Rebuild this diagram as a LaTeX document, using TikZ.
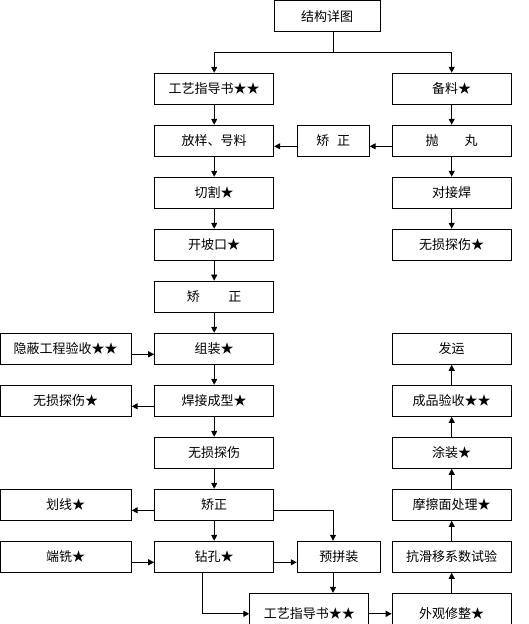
\documentclass[tikz,border=0pt]{standalone}
\usepackage{fontspec}
\setmainfont{Noto Sans CJK SC}
\usetikzlibrary{arrows.meta,calc,positioning}
\tikzset{
    flow box/.style={
        draw,
        line width=1pt,
        minimum width=119pt,
        minimum height=31pt,
        inner sep=0pt,
        font=\fontsize{13pt}{15pt}\selectfont
    },
    flow small/.style={flow box, minimum width=72pt},
    flow arrow/.style={-{Triangle[length=6pt,width=6pt]}, line width=1pt},
    flow line/.style={line width=1pt}
}

\begin{document}
\begin{tikzpicture}[x=1pt,y=-1pt]
    \clip (0,0) rectangle (528,624);
    \useasboundingbox (0,0) rectangle (528,624);

    \node[flow box, minimum width=106pt] (top) at (327,16.3) {结构详图};

    % left column
    \node[flow box] (guide) at (214.2,88.8) {工艺指导书★★};
    \node[flow box] (lay) at (214.2,140.8) {放样、号料};
    \node[flow box] (cut) at (214.2,192.8) {切割★};
    \node[flow box] (bevel) at (214.2,244.8) {开坡口★};
    \node[flow box] (fixa) at (214.2,296.7) {矫\hspace{2.2em}正};
    \node[flow box] (asm) at (214.2,348.8) {组装★};
    \node[flow box] (weld) at (214.2,400.8) {焊接成型★};
    \node[flow box] (ndt) at (214.2,452.8) {无损探伤};
    \node[flow box] (fixb) at (214.2,504.8) {矫正};
    \node[flow box] (drill) at (214.2,556.8) {钻孔★};

    % far left column
    \node[flow box, minimum width=131pt] (hidden) at (65.7,348.8) {隐蔽工程验收★★};
    \node[flow box, minimum width=131pt] (ndtb) at (65.7,400.8) {无损探伤★};
    \node[flow box, minimum width=131pt] (mark) at (65.7,504.8) {划线★};
    \node[flow box, minimum width=131pt] (mill) at (65.7,556.8) {端铣★};

    % middle
    \node[flow small] (fixc) at (333.2,140.8) {矫\hspace{0.6em}正};
    \node[flow box, minimum width=83pt] (pre) at (338.8,556.8) {预拼装};
    \node[flow box, minimum height=41pt] (guideb) at (309.3,613.8) {工艺指导书★★};

    % right column
    \node[flow box] (stock) at (451.7,88.8) {备料★};
    \node[flow box] (blast) at (451.7,140.8) {抛\hspace{2em}丸};
    \node[flow box] (butt) at (451.7,192.8) {对接焊};
    \node[flow box] (ndtc) at (451.7,244.8) {无损探伤★};
    \node[flow box] (ship) at (451.7,348.8) {发运};
    \node[flow box] (final) at (451.7,400.8) {成品验收★★};
    \node[flow box] (paint) at (451.7,452.8) {涂装★};
    \node[flow box] (fric) at (451.7,504.8) {摩擦面处理★};
    \node[flow box] (slip) at (451.7,556.8) {抗滑移系数试验};
    \node[flow box, minimum height=41pt] (trim) at (451.7,613.8) {外观修整★};

    % top split
    \coordinate (split) at (333,52);
    \draw[flow line] (top.south -| split) -- (split);
    \draw[flow arrow] (split) -| (guide.north);
    \draw[flow arrow] (split) -| (stock.north);

    % vertical chains
    \foreach \a/\b in {guide/lay,lay/cut,cut/bevel,bevel/fixa,fixa/asm,asm/weld,weld/ndt,ndt/fixb,fixb/drill,stock/blast,blast/butt,butt/ndtc}
        \draw[flow arrow] (\a) -- (\b);
    \foreach \a/\b in {trim/slip,slip/fric,fric/paint,paint/final,final/ship}
        \draw[flow arrow] (\a) -- (\b);

    % horizontal links
    \draw[flow arrow] ($(blast.west)+(0,5.5)$) -- ($(fixc.east)+(0,5.5)$);
    \draw[flow arrow] ($(fixc.west)+(0,5.5)$) -- ($(lay.east)+(0,5.5)$);
    \draw[flow arrow] ($(hidden.east)+(0,5.5)$) -- ($(asm.west)+(0,5.5)$);
    \draw[flow arrow] ($(weld.west)+(0,5.5)$) -- ($(ndtb.east)+(0,5.5)$);
    \draw[flow arrow] ($(fixb.west)+(0,5.5)$) -- ($(mark.east)+(0,5.5)$);
    \draw[flow arrow] ($(mill.east)+(0,5.5)$) -- ($(drill.west)+(0,5.5)$);
    \draw[flow arrow] ($(drill.east)+(0,5.5)$) -- ($(pre.west)+(0,5.5)$);
    \draw[flow arrow] ($(fixb.east)+(0,5.5)$) -| (pre.north -| split);
    \draw[flow arrow] (pre.south -| split) -- (guideb.north -| split);
    \draw[flow arrow] ($(drill.south)+(-12,0)$) |- (guideb.west);
    \draw[flow arrow] (guideb.east) -- (trim.west);
\end{tikzpicture}
\end{document}
